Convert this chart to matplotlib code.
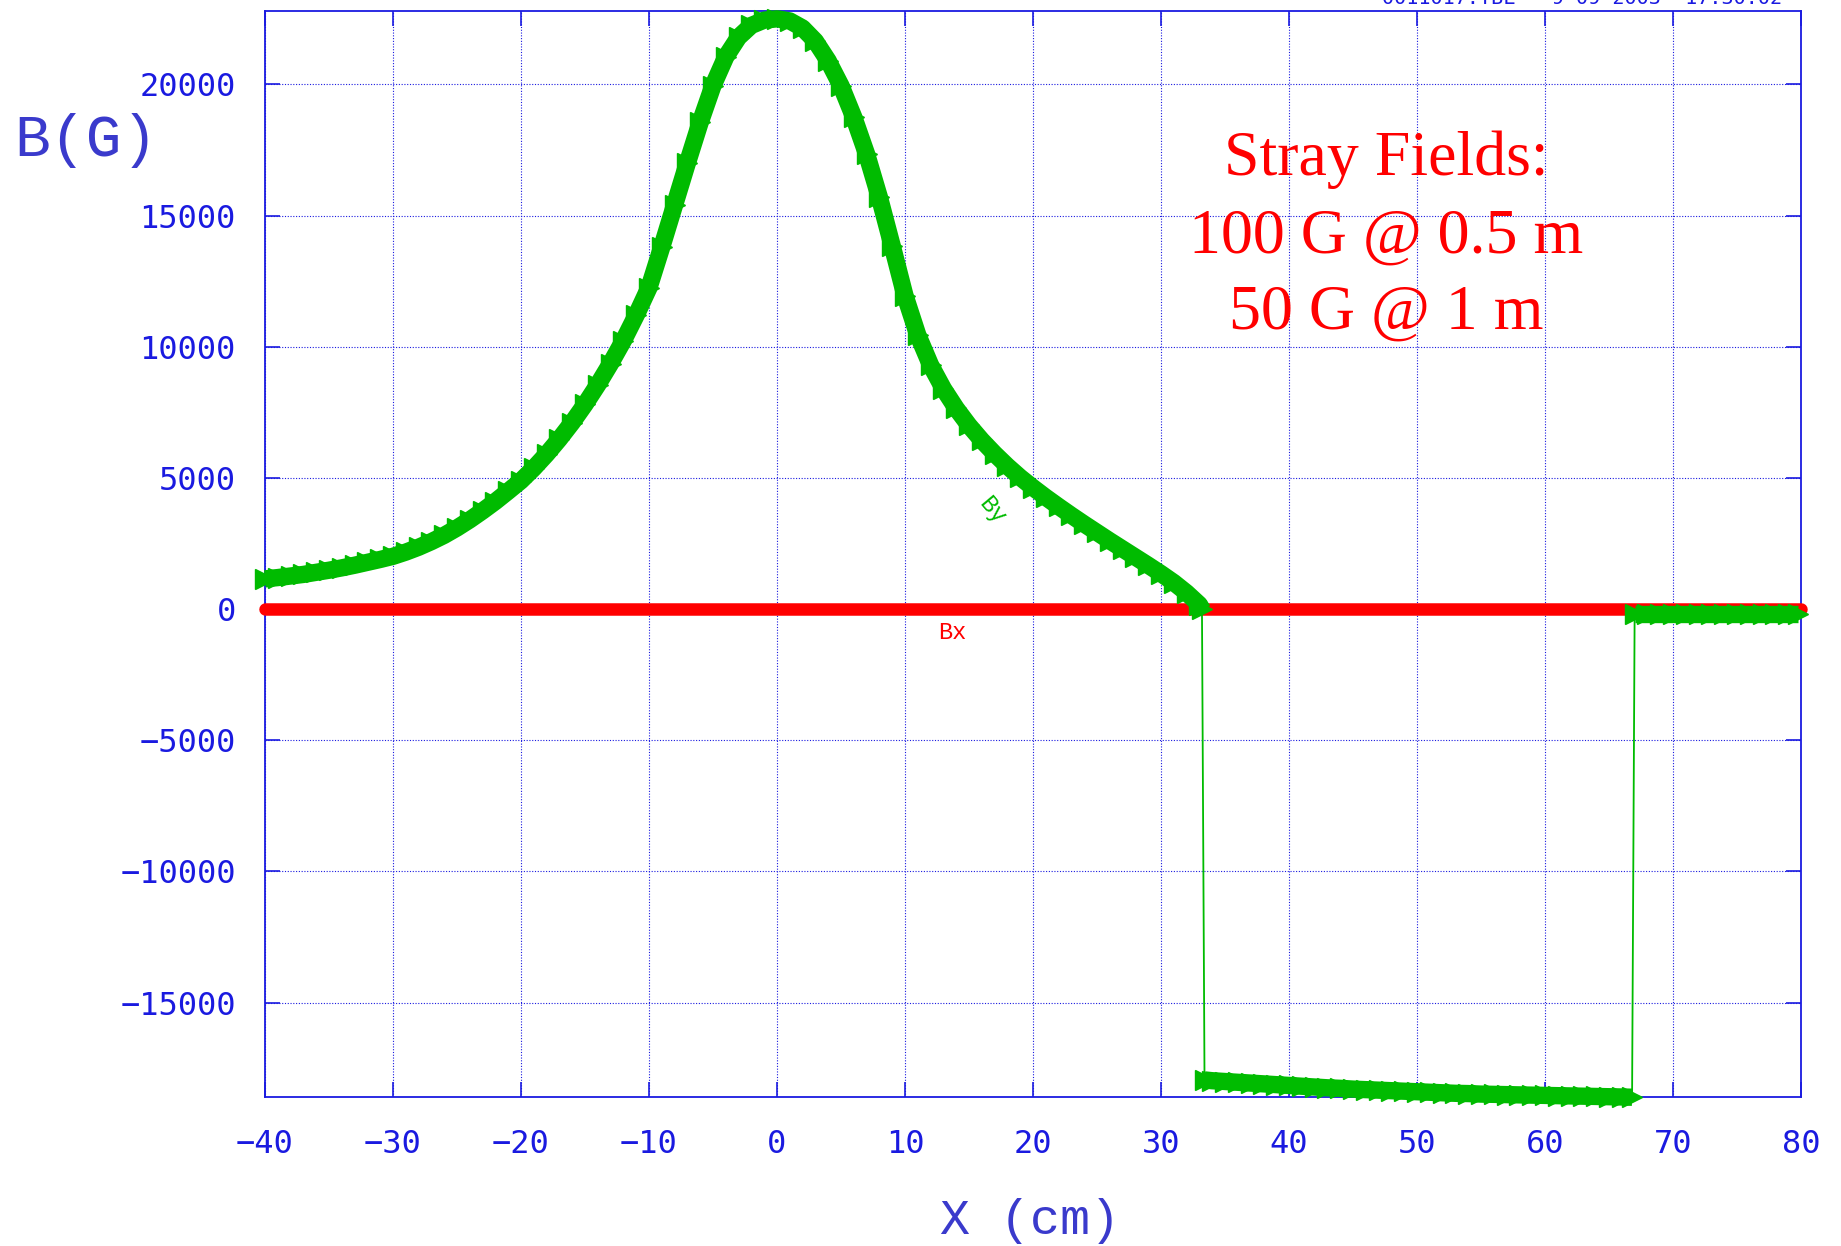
import matplotlib
matplotlib.use("Agg")
import matplotlib.pyplot as plt

# ---- data ----
by_x1 = [-40, -39, -38, -37, -36, -35, -34, -33, -32, -31, -30, -29, -28, -27, -26, -25,
         -24, -23, -22, -21, -20, -19, -18, -17, -16, -15, -14, -13, -12, -11, -10, -9,
         -8, -7, -6, -5, -4, -3, -2, -1, 0, 1, 2, 3, 4, 5, 6, 7, 8, 9, 10, 11, 12, 13,
         14, 15, 16, 17, 18, 19, 20, 21, 22, 23, 24, 25, 26, 27, 28, 29, 30, 31, 32, 33, 33.2]
by_y1 = [1150, 1200, 1260, 1320, 1400, 1480, 1570, 1670, 1780, 1890, 2010, 2170, 2355, 2570, 2810, 3090,
         3400, 3740, 4100, 4490, 4890, 5370, 5900, 6480, 7110, 7800, 8550, 9360, 10230, 11200, 12250, 13800,
         15400, 17000, 18550, 19950, 21050, 21800, 22250, 22450, 22500, 22420, 22150, 21650, 20900, 19950, 18750, 17350, 15700, 13850, 11950, 10450, 9300, 8400,
         7650, 7000, 6430, 5920, 5450, 5020, 4630, 4260, 3910, 3570, 3240, 2920, 2600, 2290, 1980, 1670, 1350, 1010, 620, 170, 0]

by_x2 = [33.4, 34, 35, 36, 37, 38, 39, 40, 41, 42, 43, 44, 45, 46, 47, 48, 49, 50, 51, 52,
         53, 54, 55, 56, 57, 58, 59, 60, 61, 62, 63, 64, 65, 66, 66.8]
by_y2 = [-17950, -17980, -18010, -18040, -18070, -18100, -18130, -18160, -18190, -18220,
         -18250, -18270, -18300, -18320, -18340, -18360, -18380, -18400, -18420, -18440,
         -18460, -18470, -18490, -18500, -18510, -18520, -18530, -18540, -18550, -18560,
         -18570, -18580, -18590, -18600, -18610]

by_x3 = [67.0, 68, 69, 70, 71, 72, 73, 74, 75, 76, 77, 78, 79, 79.8]
by_y3 = [-170, -170, -170, -170, -170, -170, -170, -170, -170, -170, -170, -170, -170, -170]

bx_x = [-40, 80]
bx_y = [0, 0]

x_ticks = [-40, -30, -20, -10, 0, 10, 20, 30, 40, 50, 60, 70, 80]
y_ticks = [-15000, -10000, -5000, 0, 5000, 10000, 15000, 20000]

# ---- style ----
BLUE = "#1a1ae0"
LBLUE = "#3a3acc"
GREEN = "#00bb00"
RED = "#ff0000"

fig = plt.figure(figsize=(18.41, 12.46), dpi=100)
ax = fig.add_axes([0.1439, 0.1196, 0.8344, 0.8716])
ax.set_xlim(-40, 80)
ax.set_ylim(-18600, 22800)

# Bx
ax.plot(bx_x, bx_y, color=RED, lw=9, solid_capstyle="round", zorder=3, clip_on=False)

# By thick bands
for xs, ys in [(by_x1, by_y1), (by_x2, by_y2), (by_x3, by_y3)]:
    ax.plot(xs, ys, color=GREEN, lw=12.5, solid_capstyle="butt", solid_joinstyle="round",
            zorder=4, clip_on=False)
# thin connecting line through all points
all_x = by_x1 + by_x2 + by_x3
all_y = by_y1 + by_y2 + by_y3
ax.plot(all_x, all_y, color=GREEN, lw=1.3, zorder=4, clip_on=False)
ax.plot(all_x, all_y, ls="none", marker=">", ms=15, color=GREEN, mec=GREEN,
        zorder=5, clip_on=False)

ax.set_xticks(x_ticks)
ax.set_yticks(y_ticks)
ax.grid(True, color=BLUE, ls=(0, (1, 1.5)), lw=0.8)
for s in ax.spines.values():
    s.set_color(BLUE)
    s.set_linewidth(1.3)
ax.tick_params(direction="in", length=11, width=1.2, color=BLUE, top=True, right=True,
               labelcolor=BLUE, labelsize=23)
ax.tick_params(axis="y", pad=21)
ax.tick_params(axis="x", pad=23)
for lab in ax.get_xticklabels() + ax.get_yticklabels():
    lab.set_family("DejaVu Sans Mono")

# curve labels
ax.text(16.8, 3750, "By", color=GREEN, rotation=-50, fontsize=17, family="Liberation Mono",
        ha="center", va="center", zorder=6)
ax.text(13.7, -880, "Bx", color=RED, fontsize=17, family="Liberation Mono",
        ha="center", va="center", zorder=6)

# annotation
for ty, s in [(0.849, "Stray Fields:"), (0.778, "100 G @ 0.5 m"), (0.708, "50 G @ 1 m")]:
    ax.text(0.730, ty, s, transform=ax.transAxes, color=RED, fontsize=46,
            family="Liberation Serif", ha="center", va="baseline", zorder=7)

# axis titles
fig.text(14 / 1841, 1 - 141 / 1246, "B(G)", color=LBLUE, fontsize=43,
         family="Liberation Mono", ha="left", va="center")
fig.text(1030 / 1841, 1 - 1221 / 1246, "X (cm)", color=LBLUE, fontsize=36,
         family="Liberation Mono", ha="center", va="center")

# header text (cut off at the top edge, as in the original)
fig.text(1782 / 1841, 1 - 4 / 1246, "0011017.TBL   9-09-2003  17:30:02", color=BLUE,
         fontsize=14.5, family="DejaVu Sans Mono", ha="right", va="baseline")

fig.savefig("out.png", dpi=100)
